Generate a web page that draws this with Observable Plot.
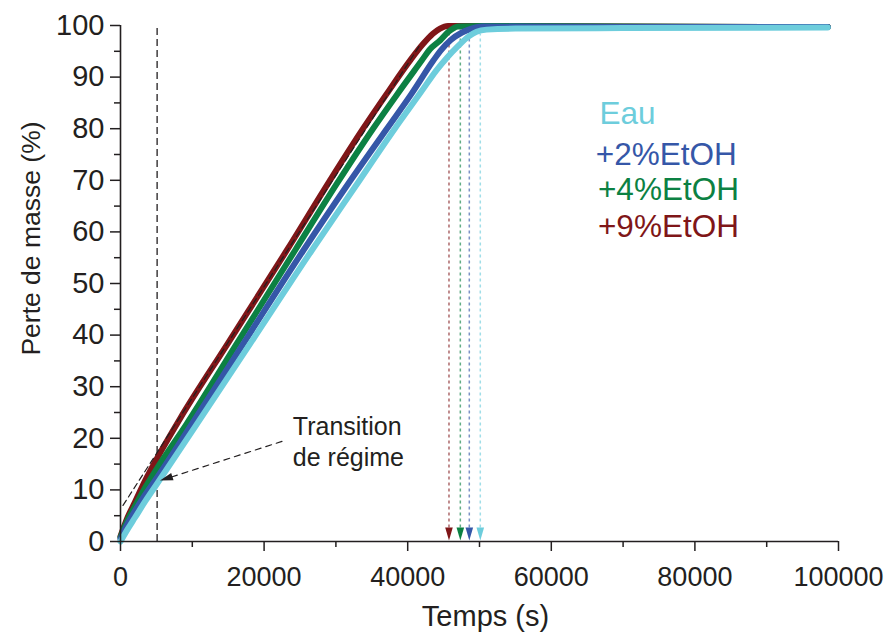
<!DOCTYPE html>
<html>
<head>
<meta charset="utf-8">
<script src="https://cdn.jsdelivr.net/npm/d3@7"></script>
<script src="https://cdn.jsdelivr.net/npm/@observablehq/plot@0.6"></script>
<style>
  html, body { margin: 0; padding: 0; background: #fff; }
  #chart { width: 895px; height: 639px; }
</style>
</head>
<body>
<div id="chart"></div>
<script>
// ---- Data ----
const seriesNames = ["+9%EtOH", "+4%EtOH", "+2%EtOH", "Eau"];
const seriesColors = ["#7f1618", "#0c8143", "#3557a8", "#6dcddc"];

// time (s), mass loss (%)
const red9T = [0, 1000, 2000, 3500, 5000, 8290, 15000, 23150, 29180, 33780, 37000, 40320, 42130, 43500, 44500, 45600, 50000, 70000, 98500];
const red9V = [1.0, 4.7, 7.6, 12.0, 15.9, 23.8, 38.5, 56.4, 70.0, 80.0, 86.6, 93.2, 96.4, 98.4, 99.4, 99.9, 99.9, 99.8, 99.7];

const green4T = [0, 1000, 2000, 3500, 5000, 9220, 16000, 24300, 30110, 35170, 38500, 41950, 43100, 44500, 45700, 47000, 50000, 70000, 98500];
const green4V = [0.8, 4.2, 6.8, 10.6, 14.0, 22.8, 37.9, 56.4, 69.3, 80.0, 86.6, 93.2, 95.4, 97.1, 98.8, 99.8, 99.9, 99.8, 99.7];

const blue2T = [0, 1000, 2000, 3500, 5000, 9680, 17000, 25460, 31500, 37100, 40500, 43570, 44500, 46000, 47500, 48500, 50500, 70000, 98500];
const blue2V = [0.5, 3.5, 5.9, 9.2, 12.2, 22.2, 38.1, 56.4, 68.9, 80.0, 86.7, 93.2, 95.0, 97.2, 98.6, 99.2, 99.8, 99.7, 99.7];

const eauT = [0, 1000, 2000, 3500, 5000, 10380, 18000, 26630, 32660, 38200, 41800, 44000, 45500, 47000, 48500, 49600, 51000, 55000, 70000, 98500];
const eauV = [0, 2.4, 4.6, 7.9, 11.0, 22.2, 38.2, 56.4, 68.7, 80.0, 87.0, 91.3, 93.8, 96.0, 97.9, 98.8, 99.2, 99.4, 99.5, 99.6];

// black dashed linear fit on the +9% curve
const fitT = [350, 41700];
const fitV = [7.0, 96.2];

// vertical dashed line "transition de régime"
const transitionT = 5100;

// end-of-drying arrows
const arrowT = [45750, 47330, 48580, 50110];
const arrowTop = [99.6, 99.6, 99.0, 98.3];

// annotation
const annLabel = "Transition\nde régime";
const annTextT = 24000, annTextV = 19.6;
const annLineT = [22490, 7090];
const annLineV = [19.4, 12.5];
const annTipT = 5500, annTipV = 11.8;

// legend
const legendLabels = ["Eau", "+2%EtOH", "+4%EtOH", "+9%EtOH"];
const legendColors = ["#6dcddc", "#3557a8", "#0c8143", "#7f1618"];
const legendT = [66700, 66200, 66500, 66500];
const legendV = [82.9, 75.0, 68.2, 60.9];

// axes
const xTicks = [0, 20000, 40000, 60000, 80000, 100000];
const xMinor = [10000, 30000, 50000, 70000, 90000];
const yTicks = [0, 10, 20, 30, 40, 50, 60, 70, 80, 90, 100];
const yMinor = [5, 15, 25, 35, 45, 55, 65, 75, 85, 95];
const xLabel = "Temps (s)";
const yLabel = "Perte de masse (%)";

// ---- build tables ----
const curves = [];
[[red9T, red9V], [green4T, green4V], [blue2T, blue2V], [eauT, eauV]].forEach(([T, V], i) => {
  T.forEach((t, j) => curves.push({series: seriesNames[i], t, v: V[j]}));
});
const fit = fitT.map((t, i) => ({t, v: fitV[i]}));
const ann = annLineT.map((t, i) => ({t, v: annLineV[i]}));
const arrows = arrowT.map((t, i) => ({t, top: arrowTop[i], c: seriesColors[i]}));
const legend = legendLabels.map((s, i) => ({s, t: legendT[i], v: legendV[i], c: legendColors[i]}));

const ink = "#231f20";
const head = {draw(ctx) { ctx.moveTo(0, 0); ctx.lineTo(-3.8, -13); ctx.lineTo(3.8, -13); ctx.closePath(); }};

const chart = Plot.plot({
  width: 895,
  height: 639,
  marginLeft: 120,
  marginRight: 57,
  marginTop: 25,
  marginBottom: 98,
  style: {fontFamily: "'Liberation Sans', Arial, Helvetica, sans-serif", fontSize: "26px", color: ink, background: "#fff"},
  x: {domain: [0, 100000]},
  y: {domain: [0, 100]},
  color: {domain: seriesNames, range: seriesColors},
  marks: [
    // transition dashed vertical
    Plot.ruleX([transitionT], {x: d => d, y1: 0, y2: 99.6, stroke: ink, strokeWidth: 1.3, strokeDasharray: "7,4"}),
    // end arrows
    Plot.ruleX(arrows, {x: "t", y1: 2.6, y2: "top", stroke: "c", strokeWidth: 1.5, strokeDasharray: "3,3", strokeOpacity: 0.65}),
    Plot.dot(arrows, {x: "t", y: 0.2, symbol: head, fill: "c", stroke: null, r: 5}),
    // curves
    Plot.line(curves, {x: "t", y: "v", z: "series", stroke: "series", strokeWidth: 6, curve: "monotone-x"}),
    // fit line
    Plot.line(fit, {x: "t", y: "v", stroke: ink, strokeWidth: 1.2, strokeDasharray: "6,4"}),
    // annotation arrow
    Plot.line(ann, {x: "t", y: "v", stroke: ink, strokeWidth: 1.2, strokeDasharray: "6,5"}),
    Plot.dot([annTipT], {x: d => d, y: annTipV, symbol: head, rotate: 72, fill: ink, stroke: null, r: 5}),
    Plot.text([annLabel], {x: annTextT, y: annTextV, text: d => d, textAnchor: "start", fontSize: 25, lineHeight: 1.25, fill: ink}),
    // legend
    Plot.text(legend, {x: "t", y: "v", text: "s", fill: "c", textAnchor: "start", fontSize: 31.5}),
    // axes
    Plot.ruleY([0], {stroke: ink, strokeWidth: 1.6}),
    Plot.ruleX([0], {stroke: ink, strokeWidth: 1.6}),
    Plot.axisX({ticks: xTicks, tickSize: 10, tickPadding: 15, tickFormat: d3.format("d"), label: null, strokeWidth: 1.5, fontSize: 27}),
    Plot.axisX({ticks: xMinor, tickSize: 6, tickFormat: () => "", label: null, strokeWidth: 1.5}),
    Plot.axisY({ticks: yTicks, tickSize: 10, tickPadding: 6, tickFormat: d3.format("d"), label: null, strokeWidth: 1.5, fontSize: 29}),
    Plot.axisY({ticks: yMinor, tickSize: 6, tickFormat: () => "", label: null, strokeWidth: 1.5}),
    // axis titles
    Plot.text([xLabel], {frameAnchor: "bottom", text: d => d, textAnchor: "middle", dx: 6, dy: 84, fontSize: 29, fill: ink}),
    Plot.text([yLabel], {frameAnchor: "left", text: d => d, textAnchor: "middle", dx: -89, dy: -45, rotate: -90, fontSize: 26.5, fill: ink})
  ]
});
document.getElementById("chart").appendChild(chart);
</script>
</body>
</html>
